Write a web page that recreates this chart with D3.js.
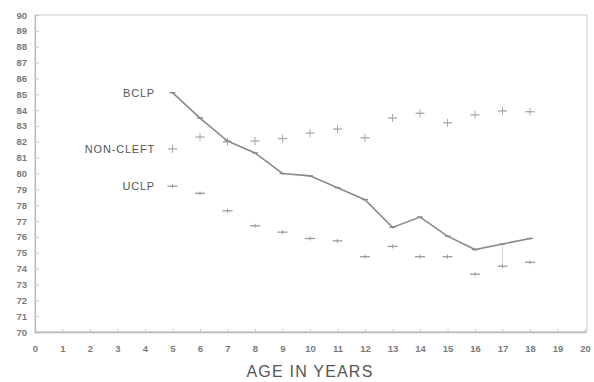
<!DOCTYPE html>
<html><head><meta charset="utf-8">
<script src="https://cdn.jsdelivr.net/npm/d3@7"></script>
<style>body{margin:0;background:#fff}svg{display:block}</style>
</head><body>
<svg id="c" width="594" height="382"></svg>
<script>
const ages = [5,6,7,8,9,10,11,12,13,14,15,16,17,18];
const bclp = [85.1,83.5,82.05,81.3,80.0,79.85,79.1,78.35,76.6,77.25,76.05,75.2,75.55,75.9];
const nonCleft = [81.55,82.3,82.0,82.05,82.2,82.55,82.8,82.25,83.5,83.8,83.2,83.7,83.95,83.9];
const uclp = [79.2,78.75,77.65,76.7,76.3,75.9,75.75,74.75,75.4,74.75,74.75,73.65,74.15,74.4];
const xTicks = d3.range(0,21);
const yTicks = d3.range(70,91);
const seriesLabels = ["BCLP","NON-CLEFT","UCLP"];
const xTitle = "AGE IN YEARS";

const svg = d3.select("#c");
const x = d3.scaleLinear().domain([0,20]).range([35,585]);
const y = d3.scaleLinear().domain([70,90]).range([332,15]);

// frame
svg.append("rect").attr("x",35).attr("y",15).attr("width",552).attr("height",317)
  .attr("fill","none").attr("stroke","#d4d4d4").attr("stroke-width",1.2);

// y axis
const ya = svg.append("g").attr("transform","translate(35,0)")
  .call(d3.axisRight(y).tickValues(yTicks).tickSize(4).tickFormat(d3.format("d")));
ya.select(".domain").attr("stroke","#bcbcbc").attr("stroke-width",1.3);
ya.selectAll(".tick line").attr("stroke","#c8c8c8");
ya.selectAll(".tick text").attr("x",-8).attr("text-anchor","end")
  .attr("fill","#7a7a7a").attr("font-family","Liberation Sans, Arial, sans-serif")
  .attr("font-size",9.5).attr("font-weight","bold");

// x axis
const xa = svg.append("g").attr("transform","translate(0,332)")
  .call(d3.axisTop(x).tickValues(xTicks).tickSize(3).tickFormat(d3.format("d")));
xa.select(".domain").attr("stroke","#bcbcbc").attr("stroke-width",1.3);
xa.selectAll(".tick line").attr("stroke","#c8c8c8");
xa.selectAll(".tick text").attr("y",20).attr("dy",0)
  .attr("fill","#7a7a7a").attr("font-family","Liberation Sans, Arial, sans-serif")
  .attr("font-size",9.5).attr("font-weight","bold");

svg.append("text").attr("x",310).attr("y",377).attr("text-anchor","middle")
  .attr("font-family","Liberation Sans, Arial, sans-serif").attr("font-size",16)
  .attr("letter-spacing",1.2).attr("fill","#555").text(xTitle);

// faint vertical connector at age 17
svg.append("line").attr("x1",x(ages[12])).attr("x2",x(ages[12]))
  .attr("y1",y(bclp[12])).attr("y2",y(uclp[12])).attr("stroke","#d6d6d6");

// BCLP line
const line = d3.line().x((d,i)=>x(ages[i])).y(d=>y(d));
svg.append("path").datum(bclp).attr("d",line).attr("fill","none")
  .attr("stroke","#8a8a8a").attr("stroke-width",1.6);

function plus(data, col, hw, hh){
  const g = svg.append("g");
  data.forEach((v,i)=>{
    const cx = x(ages[i]), cy = y(v);
    g.append("line").attr("x1",cx-hw).attr("x2",cx+hw).attr("y1",cy).attr("y2",cy)
      .attr("stroke",col).attr("stroke-width",1.3);
    g.append("line").attr("x1",cx).attr("x2",cx).attr("y1",cy-hh).attr("y2",cy+hh)
      .attr("stroke",col).attr("stroke-width",1);
  });
}
plus(nonCleft,"#a8a8a8",4.5,4);
plus(uclp,"#9a9a9a",5,2);
plus(bclp,"#8a8a8a",3,1);

// series labels
const labY = [bclp[0], nonCleft[0], uclp[0]];
seriesLabels.forEach((t,i)=>{
  svg.append("text").attr("x",155).attr("y",y(labY[i])+4).attr("text-anchor","end")
    .attr("font-family","Liberation Sans, Arial, sans-serif").attr("font-size",11)
    .attr("letter-spacing",0.8).attr("fill","#555").text(t);
});
</script>
</body></html>
